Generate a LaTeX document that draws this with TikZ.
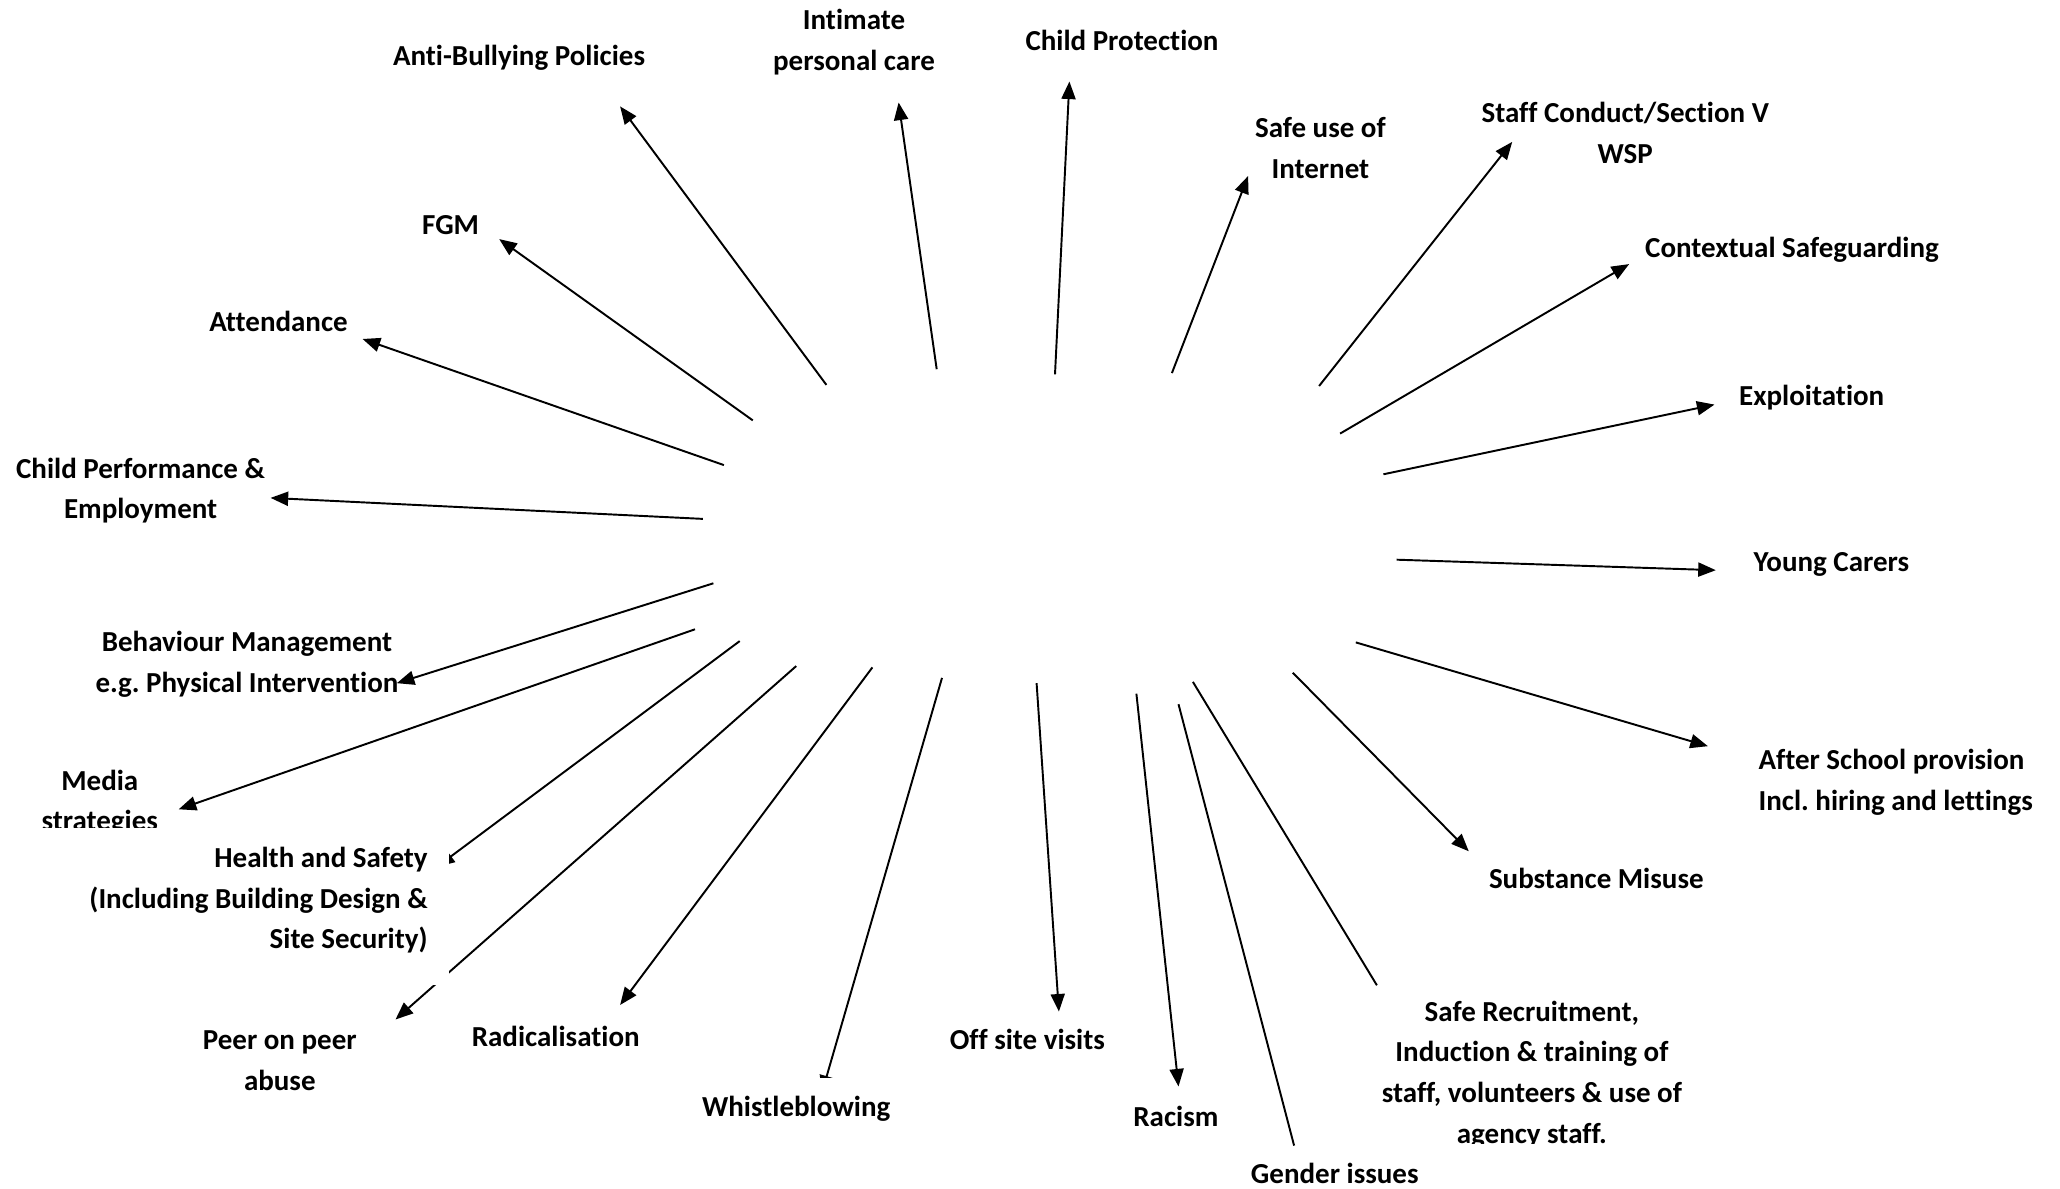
\documentclass[tikz,border=0pt]{standalone}
\usepackage{fontspec}
\setmainfont{Carlito}[Ligatures=NoCommon]
\usetikzlibrary{arrows.meta}
\frenchspacing

\begin{document}
\begin{tikzpicture}
    \tikzstyle{topic}=[font=\bfseries\fontsize{8.25}{11.6}\selectfont, inner sep=0pt, align=center]
    \tikzstyle{link}=[line width=0.55pt, arrows={-Triangle[length=5pt, width=4pt]}, color=black]
    \tikzstyle{bare link}=[line width=0.55pt, color=black]
    \tikzstyle{cover}=[fill=white, inner ysep=0pt]

    % Page size
    \useasboundingbox (0, 0) rectangle (20.6, 11.89);

    % Start and end points of the connectors
    \coordinate (bully-s) at (8.264, 8.041);
    \coordinate (bully-e) at (6.201, 10.826);
    \coordinate (intimate-s) at (9.367, 8.198);
    \coordinate (intimate-e) at (8.986, 10.865);
    \coordinate (protection-s) at (10.550, 8.146);
    \coordinate (protection-e) at (10.694, 11.075);
    \coordinate (internet-s) at (11.719, 8.159);
    \coordinate (internet-e) at (12.481, 10.130);
    \coordinate (conduct-s) at (13.191, 8.030);
    \coordinate (conduct-e) at (15.122, 10.471);
    \coordinate (contextual-s) at (13.401, 7.554);
    \coordinate (contextual-e) at (16.291, 9.249);
    \coordinate (exploitation-s) at (13.834, 7.147);
    \coordinate (exploitation-e) at (17.145, 7.844);
    \coordinate (carers-s) at (13.966, 6.293);
    \coordinate (carers-e) at (17.158, 6.188);
    \coordinate (afterschool-s) at (13.558, 5.466);
    \coordinate (afterschool-e) at (17.079, 4.428);
    \coordinate (substance-s) at (12.928, 5.163);
    \coordinate (substance-e) at (14.688, 3.377);
    \coordinate (recruitment-s) at (11.929, 5.071);
    \coordinate (recruitment-e) at (13.769, 2.037);
    \coordinate (gender-s) at (11.785, 4.848);
    \coordinate (gender-e) at (12.941, 0.434);
    \coordinate (racism-s) at (11.364, 4.953);
    \coordinate (racism-e) at (11.785, 1.025);
    \coordinate (offsite-s) at (10.366, 5.058);
    \coordinate (offsite-e) at (10.589, 1.774);
    \coordinate (whistle-s) at (9.420, 5.111);
    \coordinate (whistle-e) at (8.218, 0.959);
    \coordinate (radical-s) at (8.724, 5.216);
    \coordinate (radical-e) at (6.201, 1.840);
    \coordinate (peer-s) at (7.962, 5.229);
    \coordinate (peer-e) at (3.955, 1.695);
    \coordinate (health-s) at (7.397, 5.479);
    \coordinate (health-e) at (4.370, 3.222);
    \coordinate (media-s) at (6.950, 5.597);
    \coordinate (media-e) at (1.787, 3.797);
    \coordinate (behaviour-s) at (7.134, 6.057);
    \coordinate (behaviour-e) at (3.968, 5.058);
    \coordinate (performance-s) at (7.029, 6.701);
    \coordinate (performance-e) at (2.706, 6.911);
    \coordinate (attendance-s) at (7.239, 7.239);
    \coordinate (attendance-e) at (3.626, 8.500);
    \coordinate (fgm-s) at (7.528, 7.686);
    \coordinate (fgm-e) at (4.992, 9.499);

    % Draw the connectors, clockwise from the top left
    \draw [link] (bully-s) -- (bully-e);
    \draw [link] (intimate-s) -- (intimate-e);
    \draw [link] (protection-s) -- (protection-e);
    \draw [link] (internet-s) -- (internet-e);
    \draw [link] (conduct-s) -- (conduct-e);
    \draw [link] (contextual-s) -- (contextual-e);
    \draw [link] (exploitation-s) -- (exploitation-e);
    \draw [link] (carers-s) -- (carers-e);
    \draw [link] (afterschool-s) -- (afterschool-e);
    \draw [link] (substance-s) -- (substance-e);
    % These two have no arrow tip
    \draw [bare link] (recruitment-s) -- (recruitment-e);
    \draw [bare link] (gender-s) -- (gender-e);
    \draw [link] (racism-s) -- (racism-e);
    \draw [link] (offsite-s) -- (offsite-e);
    \draw [link] (whistle-s) -- (whistle-e);
    \draw [link] (radical-s) -- (radical-e);
    \draw [link] (peer-s) -- (peer-e);
    \draw [link] (health-s) -- (health-e);
    \draw [link] (media-s) -- (media-e);
    \draw [link] (behaviour-s) -- (behaviour-e);
    \draw [link] (performance-s) -- (performance-e);
    \draw [link] (attendance-s) -- (attendance-e);
    \draw [link] (fgm-s) -- (fgm-e);

    % Labels
    \node [topic] (bully) at (5.190, 11.312) {Anti-Bullying Policies};
    \node [topic] (intimate) at (8.540, 11.470) {Intimate\\personal care};
    \node [topic] (protection) at (11.220, 11.483) {Child Protection};
    \node [topic] (internet) at (13.204, 10.412) {Safe use of\\Internet};
    \node [topic] (conduct) at (16.252, 10.557) {Staff Conduct/Section V\\WSP};
    \node [topic] (contextual) at (17.920, 9.394) {Contextual Safeguarding};
    \node [topic] (exploitation) at (18.117, 7.909) {Exploitation};
    \node [topic] (carers) at (18.314, 6.241) {Young Carers};
    \node [topic, anchor=west, align=flush left] (afterschool) at (17.579, 4.067) {After School provision\\Incl. hiring and lettings};
    \node [topic] (substance) at (15.963, 3.101) {Substance Misuse};
    % Bottom line of this box is cut off
    \begin{scope}
        \clip (12.8, 0.45) rectangle (17.8, 2.2);
        \node [topic] (recruitment) at (15.319, 1.144) {Safe Recruitment,\\Induction \& training of\\staff, volunteers \& use of\\agency staff.};
    \end{scope}
    \node [topic] (gender) at (13.348, 0.158) {Gender issues};
    \node [topic] (racism) at (11.759, 0.723) {Racism};
    \node [topic] (offsite) at (10.274, 1.498) {Off site visits};
    \node [topic, cover, inner xsep=0.1cm, text height=0.38cm, anchor=base] (whistle) at (7.962, 0.725) {Whistleblowing};
    \node [topic] (radical) at (5.557, 1.524) {Radicalisation};
    \node [topic] (peer) at (2.798, 1.281) {Peer on peer\\abuse};
    \node [topic] (media) at (0.998, 3.863) {Media\\strategies};
    % White box over the ends of the lines nearby
    \node [topic, cover, align=flush right, inner xsep=0.21cm, text width=3.773cm,
        text height=0.39cm, text depth=1.18cm, anchor=north east] (health) at (4.493, 3.613)
        {Health and Safety\\(Including Building Design \&\\Site Security)};
    \node [topic] (behaviour) at (2.470, 5.249) {Behaviour Management\\e.g. Physical Intervention};
    \node [topic] (performance) at (1.406, 6.983) {Child Performance \&\\Employment};
    \node [topic] (attendance) at (2.785, 8.671) {Attendance};
    \node [topic] (fgm) at (4.506, 9.643) {FGM};

\end{tikzpicture}
\end{document}
